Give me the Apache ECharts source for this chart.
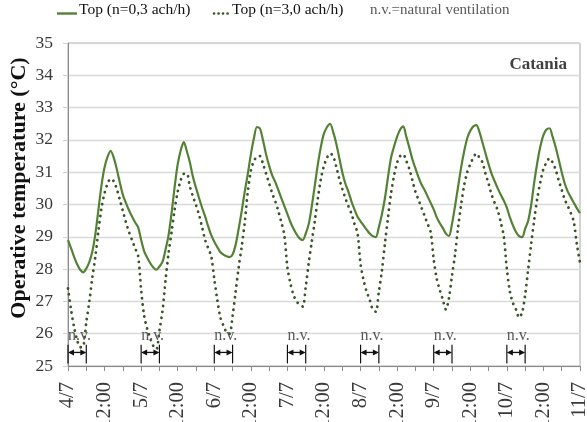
<!DOCTYPE html>
<html>
<head>
<meta charset="utf-8">
<script src="https://cdn.jsdelivr.net/npm/echarts@6/dist/echarts.min.js"></script>
<style>
  html, body { margin: 0; padding: 0; background: #fff; }
  #chart { width: 587px; height: 422px; }
</style>
</head>
<body>
<div id="chart"></div>
<script>
// Time axis: hours from 4/7 00:00, ticks every 6 h, labels at midnight and noon
const dayLabels = ['4/7', '5/7', '6/7', '7/7', '8/7', '9/7', '10/7', '11/7'];
const noonLabel = '12:00';

// Hourly operative temperature (°C), n = 0,3 ach/h
const topLowVent = [
  28.90, 28.65, 28.38, 28.15, 27.98, 27.90, 28.02, 28.22, 28.55, 29.10, 29.85, 30.60,
  31.15, 31.48, 31.66, 31.45, 31.10, 30.68, 30.30, 30.05, 29.82, 29.63, 29.45, 29.30,
  28.90, 28.55, 28.35, 28.18, 28.05, 27.98, 28.08, 28.22, 28.60, 29.05, 29.75, 30.55,
  31.25, 31.68, 31.93, 31.65, 31.30, 30.85, 30.52, 30.20, 29.90, 29.63, 29.32, 29.05,
  28.85, 28.68, 28.52, 28.45, 28.40, 28.37, 28.45, 28.75, 29.25, 29.80, 30.40, 30.95,
  31.55, 32.05, 32.40, 32.35, 31.98, 31.55, 31.20, 30.90, 30.70, 30.45, 30.20, 29.95,
  29.70, 29.45, 29.25, 29.08, 28.95, 28.90, 29.10, 29.40, 29.95, 30.60, 31.25, 31.80,
  32.20, 32.40, 32.50, 32.25, 31.90, 31.45, 31.00, 30.65, 30.40, 30.10, 29.85, 29.62,
  29.48, 29.35, 29.22, 29.10, 29.02, 28.99, 29.30, 29.70, 30.20, 30.85, 31.45, 31.80,
  32.10, 32.32, 32.42, 32.10, 31.76, 31.40, 31.12, 30.85, 30.62, 30.45, 30.25, 30.05,
  29.85, 29.60, 29.42, 29.27, 29.10, 29.03, 29.40, 29.95, 30.55, 31.15, 31.65, 32.05,
  32.28, 32.42, 32.46, 32.25, 31.92, 31.58, 31.25, 30.95, 30.72, 30.50, 30.30, 30.12,
  29.90, 29.60, 29.35, 29.15, 29.02, 28.99, 29.25, 29.50, 30.00, 30.70, 31.30, 31.80,
  32.15, 32.32, 32.36, 32.10, 31.78, 31.40, 31.00, 30.65, 30.40, 30.22, 30.05, 29.88,
  29.73
];

// Hourly operative temperature (°C), n = 3,0 ach/h
const topHighVent = [
  27.40, 26.75, 26.20, 25.80, 25.58, 25.60, 26.35, 27.00, 27.75, 28.40, 29.20, 29.90,
  30.35, 30.65, 30.80, 30.72, 30.48, 30.15, 29.80, 29.45, 29.15, 28.90, 28.65, 28.42,
  27.35, 26.55, 26.15, 25.85, 25.62, 25.52, 26.10, 26.70, 27.65, 28.50, 29.15, 29.85,
  30.40, 30.75, 30.95, 30.95, 30.55, 30.25, 29.98, 29.68, 29.30, 28.90, 28.65, 28.40,
  27.70, 27.05, 26.50, 26.25, 26.05, 26.00, 26.55, 27.30, 28.05, 28.70, 29.45, 30.40,
  31.05, 31.35, 31.48, 31.50, 31.25, 30.95, 30.65, 30.35, 30.10, 29.80, 29.45, 29.05,
  28.05, 27.55, 27.20, 27.00, 26.90, 26.84, 27.45, 28.20, 28.85, 29.50, 30.20, 30.80,
  31.20, 31.45, 31.58, 31.50, 31.18, 30.80, 30.48, 30.20, 29.95, 29.72, 29.40, 29.12,
  28.15, 27.65, 27.30, 27.05, 26.75, 26.68, 27.30, 27.95, 28.80, 29.60, 30.35, 30.90,
  31.30, 31.50, 31.55, 31.35, 31.10, 30.75, 30.40, 30.15, 29.90, 29.65, 29.40, 29.15,
  28.30, 27.70, 27.35, 27.05, 26.75, 27.10, 27.80, 28.45, 29.30, 30.00, 30.60, 31.00,
  31.25, 31.45, 31.58, 31.45, 31.30, 30.95, 30.65, 30.30, 30.05, 29.82, 29.45, 29.00,
  28.00, 27.30, 26.95, 26.75, 26.50, 26.65, 27.20, 28.00, 28.80, 29.55, 30.20, 30.70,
  31.10, 31.30, 31.43, 31.30, 31.08, 30.75, 30.45, 30.15, 29.95, 29.73, 29.45, 28.75,
  28.20
];

// Natural ventilation periods (hours from start)
const nvStart = [0, 24, 48, 72, 96, 120, 144];
const nvEnd   = [6, 30, 54, 78, 102, 126, 150];

const seriesNames = ['Top (n=0,3 ach/h)', 'Top (n=3,0 ach/h)'];
const nvNote = 'n.v.=natural ventilation';
const nvLabel = 'n.v.';
const cityLabel = 'Catania';
const yTitle = 'Operative temperature (°C)';

const SERIF = '"Liberation Serif", "Times New Roman", serif';
const COLOR_LOW = '#548235';
const COLOR_HIGH = '#375623';
const DOTS = [0.1, 6];

const toPairs = arr => arr.map((v, h) => [h, v]);
const nvData = nvStart.map((s, i) => [s, nvEnd[i]]);

// Levels (°C) used to place the natural-ventilation markers
const NV_ARROW = 25.42, NV_BAR_LO = 25.08, NV_BAR_HI = 25.66, NV_TEXT = 25.68;

function renderNv(params, api) {
  const s = api.value(0), e = api.value(1);
  const a = api.coord([s, NV_ARROW]);
  const b = api.coord([e, NV_ARROW]);
  const yHi = api.coord([s, NV_BAR_HI])[1];
  const yLo = api.coord([s, NV_BAR_LO])[1];
  const t = api.coord([s, NV_TEXT]);
  const ah = 5, aw = 3;
  return {
    type: 'group',
    children: [
      { type: 'line', shape: { x1: a[0], y1: yHi, x2: a[0], y2: yLo }, style: { stroke: '#111', lineWidth: 1.2 } },
      { type: 'line', shape: { x1: b[0], y1: yHi, x2: b[0], y2: yLo }, style: { stroke: '#111', lineWidth: 1.2 } },
      { type: 'line', shape: { x1: a[0] + ah, y1: a[1], x2: b[0] - ah, y2: b[1] }, style: { stroke: '#111', lineWidth: 1.3 } },
      { type: 'polygon', shape: { points: [[a[0], a[1]], [a[0] + ah + 1, a[1] - aw], [a[0] + ah + 1, a[1] + aw]] }, style: { fill: '#111' } },
      { type: 'polygon', shape: { points: [[b[0], b[1]], [b[0] - ah - 1, b[1] - aw], [b[0] - ah - 1, b[1] + aw]] }, style: { fill: '#111' } },
      { type: 'text', x: t[0], y: t[1], style: { text: nvLabel, fill: '#595959', font: '16px ' + SERIF, align: 'left', verticalAlign: 'bottom' } }
    ]
  };
}

const chart = echarts.init(document.getElementById('chart'), null, { renderer: 'canvas' });

chart.setOption({
  animation: false,
  backgroundColor: '#ffffff',
  textStyle: { fontFamily: SERIF },
  grid: {
    left: 68, right: 7, top: 43, bottom: 56,
    outerBoundsMode: 'none', containLabel: false,
    show: true, borderColor: '#a6a6a6', borderWidth: 1, backgroundColor: 'transparent'
  },
  title: {
    text: cityLabel,
    right: 15, top: 51,
    textStyle: { fontFamily: SERIF, fontWeight: 'bold', fontSize: 17, color: '#404040' }
  },
  graphic: [
    // legend: solid line sample + label
    { type: 'line', shape: { x1: 57, y1: 13.5, x2: 77, y2: 13.5 }, style: { stroke: COLOR_LOW, lineWidth: 2.4 } },
    { type: 'text', x: 79, y: 10, style: { text: seriesNames[0], fill: '#111', font: '15.5px ' + SERIF, align: 'left', verticalAlign: 'middle' } },
    // legend: dotted line sample + label
    { type: 'line', shape: { x1: 214, y1: 13.5, x2: 231, y2: 13.5 }, style: { stroke: COLOR_HIGH, lineWidth: 2.6, lineDash: [0.1, 4.4], lineCap: 'round' } },
    { type: 'text', x: 232, y: 10, style: { text: seriesNames[1], fill: '#111', font: '15.5px ' + SERIF, align: 'left', verticalAlign: 'middle' } },
    // note
    { type: 'text', x: 370, y: 10, style: { text: nvNote, fill: '#595959', font: '15px ' + SERIF, align: 'left', verticalAlign: 'middle' } },
    // y-axis title
    { type: 'text', x: 19, y: 188, rotation: Math.PI / 2,
      style: { text: yTitle, fill: '#111', font: 'bold 22px ' + SERIF, align: 'center', verticalAlign: 'middle' } }
  ],
  xAxis: {
    type: 'value', min: 0, max: 168, interval: 6,
    axisLine: { lineStyle: { color: '#8c8c8c', width: 1 } },
    axisTick: { show: true, length: 5, lineStyle: { color: '#8c8c8c' } },
    splitLine: { show: false },
    axisLabel: {
      rotate: 90, margin: 16, fontSize: 20.5, color: '#3a3a3a', fontFamily: SERIF,
      showMinLabel: true, showMaxLabel: true, hideOverlap: false,
      formatter: v => (v % 24 === 0 ? dayLabels[v / 24] : (v % 24 === 12 ? noonLabel : ''))
    }
  },
  yAxis: {
    type: 'value', min: 25, max: 35, interval: 1,
    axisLine: { show: true, lineStyle: { color: '#8c8c8c', width: 1 } },
    axisTick: { show: true, length: 5, lineStyle: { color: '#d0d0d0' } },
    splitLine: { show: true, lineStyle: { color: '#d9d9d9', width: 1.3 } },
    axisLabel: { margin: 15, fontSize: 17.5, color: '#3a3a3a', fontFamily: SERIF }
  },
  series: [
    {
      name: seriesNames[0], type: 'line', data: toPairs(topLowVent),
      showSymbol: false, symbol: 'none', smooth: 0.3,
      lineStyle: { color: COLOR_LOW, width: 2.2 },
      itemStyle: { color: COLOR_LOW },
      z: 3
    },
    {
      name: seriesNames[1], type: 'line', data: toPairs(topHighVent),
      showSymbol: false, symbol: 'none', smooth: 0.3,
      lineStyle: { color: COLOR_HIGH, width: 2.8, type: DOTS, cap: 'round' },
      itemStyle: { color: COLOR_HIGH },
      z: 3
    },
    {
      type: 'custom', data: nvData, renderItem: renderNv,
      encode: { x: [0, 1], y: -1 }, clip: false, silent: true, z: 4
    }
  ]
});
</script>
</body>
</html>
